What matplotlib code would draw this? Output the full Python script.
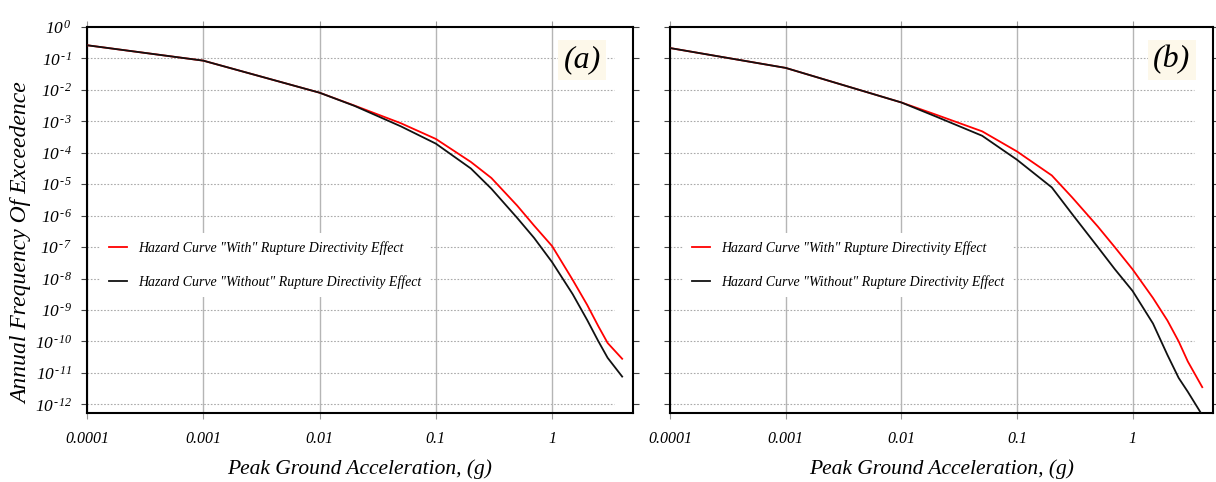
import numpy as np
import matplotlib
matplotlib.use('Agg')
import matplotlib.pyplot as plt
from matplotlib.ticker import FixedLocator, FuncFormatter, NullLocator

plt.rcParams['font.family'] = ['Liberation Serif', 'DejaVu Serif']
plt.rcParams['font.style'] = 'italic'
plt.rcParams['mathtext.fontset'] = 'custom'
plt.rcParams['mathtext.rm'] = 'Liberation Serif:italic'
plt.rcParams['mathtext.it'] = 'Liberation Serif:italic'

# peak ground acceleration (g)
pga = [1e-4, 1e-3, 0.01, 0.02, 0.05, 0.1, 0.2, 0.3, 0.5, 0.7, 1, 1.5, 2, 2.5, 3, 4]

# panel (a)
a_with = [0.263, 0.0851, 8.13e-3, 3.16e-3, 8.7e-4, 2.75e-4, 5.1e-5, 1.58e-5,
          2.09e-6, 4.8e-7, 1.07e-7, 9.1e-9, 1.45e-9, 3.0e-10, 8.9e-11, 2.8e-11]
a_without = [0.263, 0.0851, 8.13e-3, 3.09e-3, 6.92e-4, 1.95e-4, 3.16e-5, 7.2e-6,
             8.5e-7, 1.95e-7, 3.3e-8, 3.2e-9, 4.8e-10, 1.0e-10, 3.0e-11, 7.6e-12]

# panel (b)
b_with = [0.214, 0.050, 3.98e-3, 1.62e-3, 4.8e-4, 1.1e-4, 1.9e-5, 3.8e-6,
          4.5e-7, 1.0e-7, 1.95e-8, 2.4e-9, 4.6e-10, 1.0e-10, 2.3e-11, 3.5e-12]
b_without = [0.214, 0.050, 3.98e-3, 1.41e-3, 3.47e-4, 6.0e-5, 7.9e-6, 1.12e-6,
             1.0e-7, 2.0e-8, 4.0e-9, 3.7e-10, 3.7e-11, 6.9e-12, 2.5e-12, 4.5e-13]

x_ticks = [1e-4, 1e-3, 1e-2, 1e-1, 1]
x_labels = ['0.0001', '0.001', '0.01', '0.1', '1']
y_exps = list(range(0, -13, -1))

lbl_with = 'Hazard Curve "With" Rupture Directivity Effect'
lbl_without = 'Hazard Curve "Without" Rupture Directivity Effect'

fig = plt.figure(figsize=(12.16, 4.82), dpi=100)
ax1 = fig.add_axes([0.0715, 0.143, 0.449, 0.801])
ax2 = fig.add_axes([0.551, 0.143, 0.4465, 0.801])


def pow_label(v, pos):
    e = int(round(np.log10(v)))
    if e == 0:
        return r'$10^{\,0}$'
    return r'$10^{\,\text{-}%d}$' % abs(e)


def setup(ax, ywith, ywithout, tag, tag_x, show_ylabels):
    ax.set_xscale('log')
    ax.set_yscale('log')
    ax.set_xlim(1e-4, 4.95)
    ax.set_ylim(10 ** -12.28, 1)

    for e in y_exps:
        ax.axhline(10.0 ** e, xmin=0, xmax=0.965, color='#aaaaaa', lw=0.8,
                   ls=(0, (1.5, 1.5)), zorder=0)
    for xt in x_ticks:
        ax.axvline(xt, color='#b5b5b5', lw=1.0, zorder=0)

    ax.plot(pga, ywith, color='#ff0000', lw=1.3, label=lbl_with, zorder=3)
    ax.plot(pga, ywithout, color='#111111', lw=1.3, label=lbl_without, zorder=3)

    ax.xaxis.set_major_locator(FixedLocator(x_ticks))
    ax.xaxis.set_minor_locator(NullLocator())
    ax.set_xticklabels(x_labels, fontsize=11.5)
    ax.yaxis.set_major_locator(FixedLocator([10.0 ** e for e in y_exps]))
    ax.yaxis.set_minor_locator(NullLocator())
    if show_ylabels:
        ax.yaxis.set_major_formatter(FuncFormatter(pow_label))
    else:
        ax.yaxis.set_major_formatter(FuncFormatter(lambda v, p: ''))
    ax.tick_params(axis='x', which='both', direction='out', top=True,
                   length=4, color='#999999', pad=9)
    ax.tick_params(axis='y', which='both', direction='out', right=True,
                   length=4, color='#444444', labelsize=12.5, pad=7)
    for s in ax.spines.values():
        s.set_linewidth(1.5)

    ax.set_xlabel('Peak Ground Acceleration, (g)', fontsize=15.5, labelpad=9)

    leg = ax.legend(loc='upper left', bbox_to_anchor=(0.012, 0.485),
                    frameon=True, fontsize=10, handlelength=1.3,
                    handletextpad=0.8, labelspacing=1.45, borderpad=0.6)
    leg.get_frame().set_edgecolor('none')
    leg.get_frame().set_facecolor('white')
    leg.get_frame().set_alpha(1)

    ax.text(tag_x, 0.915, tag, transform=ax.transAxes, fontsize=23,
            ha='center', va='center',
            bbox=dict(facecolor='#fdf8ea', edgecolor='none', pad=4))


setup(ax1, a_with, a_without, '(a)', 0.907, True)
setup(ax2, b_with, b_without, '(b)', 0.924, False)
ax1.set_ylabel('Annual Frequency Of Exceedence', fontsize=17)
ax1.yaxis.set_label_coords(-0.1, 0.44)

fig.savefig('out.png', dpi=100)
